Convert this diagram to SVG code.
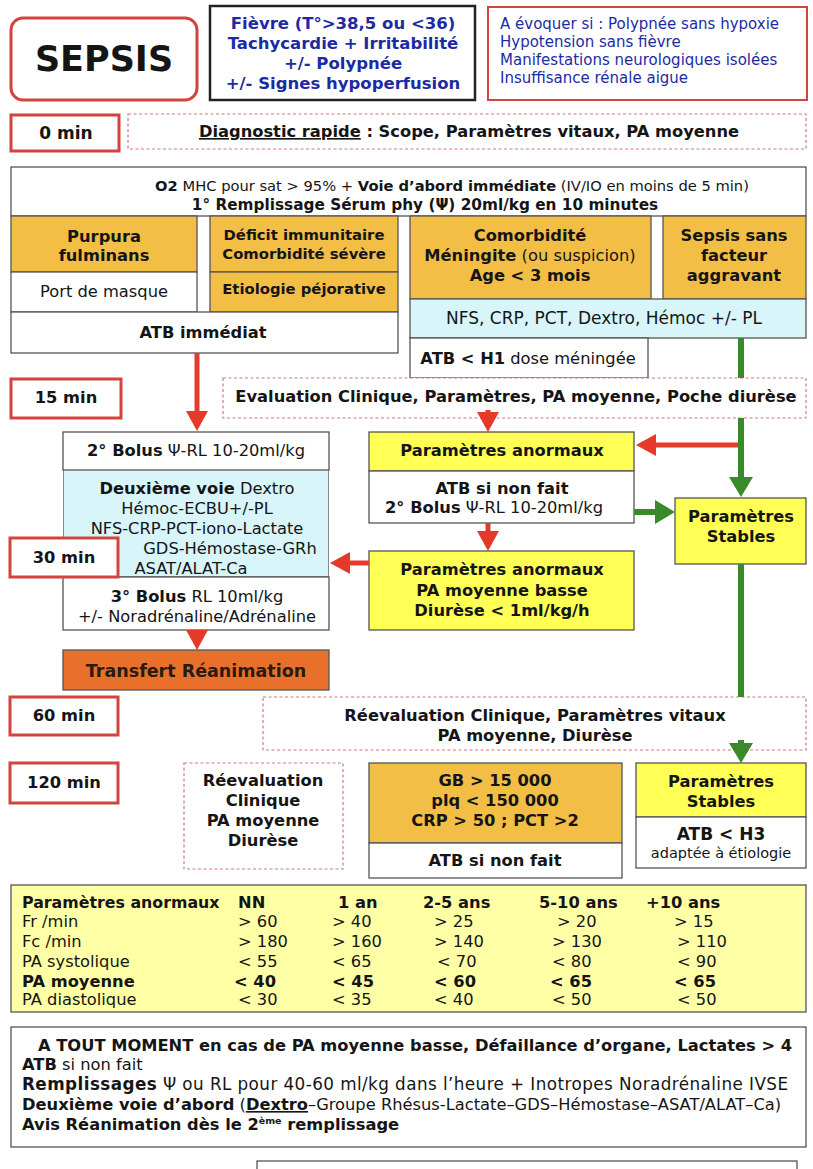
<svg xmlns="http://www.w3.org/2000/svg" width="813" height="1169" viewBox="0 0 813 1169">
<defs>
<style>
text{font-family:"DejaVu Sans","Liberation Sans",sans-serif;font-size:16.3px;fill:#151515}
.b{font-weight:bold}
.c{text-anchor:middle}
.box{fill:#fff;stroke:#555;stroke-width:1.3}
.org{fill:#F2BE45;stroke:#555;stroke-width:1.3}
.cyan{fill:#D8F6FA;stroke:#555;stroke-width:1.3}
.yel{fill:#FFFF55;stroke:#555;stroke-width:1.3}
.time{fill:#fff;stroke:#D2443D;stroke-width:3}
.dash{fill:#fff;stroke:#D27A7A;stroke-width:1.2;stroke-dasharray:3 2.5}
.red{stroke:#E5392A;stroke-width:5;fill:none}
.grn{stroke:#3A8A2B;stroke-width:6;fill:none}
.blue{fill:#1C2BA3}
</style>
<marker id="rh" viewBox="0 0 20 22" markerWidth="20" markerHeight="22" refX="12" refY="11" orient="auto" markerUnits="userSpaceOnUse"><path d="M0,0 L20,11 L0,22 z" fill="#E5392A"/></marker>
<marker id="gh" viewBox="0 0 20 24" markerWidth="20" markerHeight="24" refX="12" refY="12" orient="auto" markerUnits="userSpaceOnUse"><path d="M0,0 L20,12 L0,24 z" fill="#3A8A2B"/></marker>
</defs>
<rect width="813" height="1169" fill="#fff"/>

<g id="sepsis"><rect x="11" y="18" width="186" height="82" rx="12" fill="#fff" stroke="#D2443D" stroke-width="3"/><text x="104" y="71" class="b c" style="font-size:35px">SEPSIS</text></g>
<g id="signes"><rect x="210" y="6" width="265" height="94" fill="#fff" stroke="#222" stroke-width="2.5"/>
<text class="b c blue" style="font-size:16.5px"><tspan x="343" y="29">Fièvre (T°&gt;38,5 ou &lt;36)</tspan><tspan x="343" y="49">Tachycardie + Irritabilité</tspan><tspan x="343" y="69">+/- Polypnée</tspan><tspan x="343" y="89">+/- Signes hypoperfusion</tspan></text></g>
<g id="evoquer"><rect x="488" y="7" width="319" height="93" fill="#fff" stroke="#D2443D" stroke-width="2"/>
<text class="blue" style="font-size:15px"><tspan x="500" y="29">A évoquer si : Polypnée sans hypoxie</tspan><tspan x="500" y="47">Hypotension sans fièvre</tspan><tspan x="500" y="65">Manifestations neurologiques isolées</tspan><tspan x="500" y="83">Insuffisance rénale aigue</tspan></text></g>

<g id="t0"><rect class="time" x="11" y="115" width="108" height="36"/><text x="66" y="139" class="b c" style="font-size:17px">0 min</text></g>
<g id="diag"><rect class="dash" x="128" y="114" width="678" height="35"/><text x="469" y="137" class="b c"><tspan text-decoration="underline">Diagnostic rapide</tspan> : Scope, Paramètres vitaux, PA moyenne</text></g>

<g id="o2"><rect class="box" x="11" y="167" width="795" height="49"/>
<text x="452" y="191" class="c" style="font-size:14.7px"><tspan class="b">O2</tspan> MHC pour sat &gt; 95% + <tspan class="b">Voie d’abord immédiate</tspan> (IV/IO en moins de 5 min)</text>
<text x="425" y="210" class="b c" style="font-size:15.3px">1° Remplissage Sérum phy (Ψ) 20ml/kg en 10 minutes</text></g>

<g id="purpura"><rect class="org" x="11" y="216" width="186" height="56"/><text class="b c"><tspan x="104" y="242">Purpura</tspan><tspan x="104" y="261">fulminans</tspan></text>
<rect class="box" x="11" y="272" width="186" height="40"/><text x="104" y="297" class="c">Port de masque</text></g>
<g id="deficit"><rect class="org" x="210" y="216" width="188" height="56"/><text class="b c" style="font-size:14.8px"><tspan x="304" y="240">Déficit immunitaire</tspan><tspan x="304" y="259">Comorbidité sévère</tspan></text>
<rect class="org" x="210" y="272" width="188" height="40"/><text x="304" y="294" class="b c" style="font-size:14.8px">Etiologie péjorative</text></g>
<g id="atbimm"><rect class="box" x="11" y="312" width="387" height="41"/><text x="203" y="338" class="b c">ATB immédiat</text></g>

<g id="comorb"><rect class="org" x="410" y="216" width="241" height="83"/><text class="c"><tspan x="530" y="241" class="b">Comorbidité</tspan><tspan x="530" y="261"><tspan class="b">Méningite</tspan> (ou suspicion)</tspan><tspan x="530" y="281" class="b">Age &lt; 3 mois</tspan></text></g>
<g id="sanssepsis"><rect class="org" x="663" y="216" width="143" height="83"/><text class="b c"><tspan x="734" y="241">Sepsis sans</tspan><tspan x="734" y="261">facteur</tspan><tspan x="734" y="281">aggravant</tspan></text></g>
<g id="nfs"><rect class="cyan" x="410" y="299" width="396" height="39"/><text x="604" y="324" class="c" style="font-size:17px">NFS, CRP, PCT, Dextro, Hémoc +/- PL</text></g>
<g id="atbh1"><rect class="box" x="410" y="338" width="238" height="40"/><text x="528" y="364" class="c"><tspan class="b">ATB &lt; H1</tspan> dose méningée</text></g>

<g id="t15"><rect class="time" x="11" y="379" width="110" height="39"/><text x="66" y="403" class="b c">15 min</text></g>
<g id="eval"><rect class="dash" x="223" y="378" width="583" height="40"/><text x="516" y="402" class="b c">Evaluation Clinique, Paramètres, PA moyenne, Poche diurèse</text></g>

<g id="bolus2"><rect class="box" x="63" y="432" width="266" height="38"/><text x="196" y="456" class="c"><tspan class="b">2° Bolus</tspan> Ψ-RL 10-20ml/kg</text></g>
<g id="voie2"><svg x="63" y="470" width="266" height="107" overflow="hidden"><rect class="cyan" x="0" y="0" width="266" height="107"/>
<text class="c"><tspan x="134" y="24"><tspan class="b">Deuxième voie</tspan> Dextro</tspan><tspan x="134" y="44">Hémoc-ECBU+/-PL</tspan><tspan x="134" y="64">NFS-CRP-PCT-iono-Lactate</tspan><tspan x="167" y="84">GDS-Hémostase-GRh</tspan><tspan x="128" y="104">ASAT/ALAT-Ca</tspan></text></svg></g>
<g id="bolus3"><rect class="box" x="63" y="577" width="266" height="53"/><text class="c"><tspan x="197" y="602"><tspan class="b">3° Bolus</tspan> RL 10ml/kg</tspan><tspan x="197" y="622">+/- Noradrénaline/Adrénaline</tspan></text></g>
<g id="t30"><rect class="time" x="10" y="538" width="108" height="39"/><text x="64" y="563" class="b c">30 min</text></g>
<g id="transfert"><rect x="63" y="650" width="266" height="40" fill="#E8702A" stroke="#555" stroke-width="1.3"/><text x="196" y="677" class="b c" style="font-size:17.5px;fill:#2a1a10">Transfert Réanimation</text></g>

<g id="anorm1"><rect class="yel" x="369" y="432" width="265" height="39"/><text x="502" y="456" class="b c">Paramètres  anormaux</text>
<rect class="box" x="369" y="471" width="265" height="52"/><text class="c"><tspan x="502" y="494" class="b">ATB si non fait</tspan><tspan x="494" y="513"><tspan class="b">2° Bolus</tspan> Ψ-RL 10-20ml/kg</tspan></text></g>
<g id="stables1"><rect class="yel" x="675" y="498" width="131" height="66"/><text class="b c"><tspan x="741" y="522">Paramètres</tspan><tspan x="741" y="542">Stables</tspan></text></g>
<g id="anorm2"><rect class="yel" x="369" y="551" width="265" height="79"/><text class="b c"><tspan x="502" y="575">Paramètres anormaux</tspan><tspan x="502" y="596">PA moyenne basse</tspan><tspan x="502" y="616">Diurèse &lt; 1ml/kg/h</tspan></text></g>

<g id="t60"><rect class="time" x="10" y="697" width="108" height="38"/><text x="64" y="721" class="b c">60 min</text></g>
<g id="reeval"><rect class="dash" x="263" y="697" width="543" height="53"/><text class="b c"><tspan x="535" y="721">Réevaluation Clinique, Paramètres vitaux</tspan><tspan x="535" y="741">PA moyenne, Diurèse</tspan></text></g>

<g id="t120"><rect class="time" x="10" y="763" width="108" height="40"/><text x="64" y="788" class="b c">120 min</text></g>
<g id="reeval2"><rect class="dash" x="184" y="763" width="159" height="106"/><text class="b c"><tspan x="263" y="786">Réevaluation</tspan><tspan x="263" y="806">Clinique</tspan><tspan x="263" y="826">PA moyenne</tspan><tspan x="263" y="846">Diurèse</tspan></text></g>
<g id="bio"><rect class="org" x="369" y="763" width="253" height="80"/><text class="b c"><tspan x="495" y="786">GB &gt; 15 000</tspan><tspan x="495" y="806">plq &lt; 150 000</tspan><tspan x="495" y="826">CRP &gt; 50 ; PCT &gt;2</tspan></text>
<rect class="box" x="369" y="843" width="253" height="35"/><text x="495" y="866" class="b c">ATB si non fait</text></g>
<g id="stables2"><rect class="yel" x="636" y="763" width="170" height="54"/><text class="b c"><tspan x="721" y="787">Paramètres</tspan><tspan x="721" y="807">Stables</tspan></text>
<rect class="box" x="636" y="817" width="170" height="51"/><text x="721" y="840" class="b c" style="font-size:17px">ATB &lt; H3</text><text x="721" y="858" class="c" style="font-size:14.5px">adaptée à étiologie</text></g>

<g id="table"><rect x="11" y="885" width="795" height="127" fill="#FFFFA6" stroke="#555" stroke-width="1.3"/>
<text x="22" y="908" class="b" style="font-size:15.8px">Paramètres anormaux</text><text x="238" y="908" class="b">NN</text><text x="338" y="908" class="b">1 an</text><text x="423" y="908" class="b">2-5 ans</text><text x="539" y="908" class="b">5-10 ans</text><text x="646" y="908" class="b">+10 ans</text>
<text x="22" y="927">Fr /min</text><text x="238" y="927">&gt; 60</text><text x="332" y="927">&gt; 40</text><text x="434" y="927">&gt; 25</text><text x="557" y="927">&gt; 20</text><text x="674" y="927">&gt; 15</text>
<text x="22" y="947">Fc /min</text><text x="238" y="947">&gt; 180</text><text x="332" y="947">&gt; 160</text><text x="434" y="947">&gt; 140</text><text x="552" y="947">&gt; 130</text><text x="677" y="947">&gt; 110</text>
<text x="22" y="967">PA systolique</text><text x="238" y="967">&lt; 55</text><text x="332" y="967">&lt; 65</text><text x="437" y="967">&lt; 70</text><text x="552" y="967">&lt; 80</text><text x="677" y="967">&lt; 90</text>
<text x="22" y="987" class="b">PA moyenne</text><text x="234" y="987" class="b">&lt; 40</text><text x="332" y="987" class="b">&lt; 45</text><text x="434" y="987" class="b">&lt; 60</text><text x="550" y="987" class="b">&lt; 65</text><text x="674" y="987" class="b">&lt; 65</text>
<text x="22" y="1005">PA diastolique</text><text x="238" y="1005">&lt; 30</text><text x="332" y="1005">&lt; 35</text><text x="434" y="1005">&lt; 40</text><text x="552" y="1005">&lt; 50</text><text x="677" y="1005">&lt; 50</text></g>

<g id="toutmoment"><rect class="box" x="11" y="1027" width="795" height="120"/>
<text x="38" y="1051" class="b">A TOUT MOMENT en cas de PA moyenne basse, Défaillance d’organe, Lactates &gt; 4</text>
<text x="22" y="1070"><tspan class="b">ATB</tspan> si non fait</text>
<text x="22" y="1090" style="font-size:16.8px" textLength="766" lengthAdjust="spacing"><tspan class="b">Remplissages</tspan> Ψ ou RL pour 40-60 ml/kg dans l’heure + Inotropes Noradrénaline IVSE</text>
<text x="22" y="1110"><tspan class="b">Deuxième voie d’abord</tspan> (<tspan class="b" text-decoration="underline">Dextro</tspan>–Groupe Rhésus-Lactate–GDS–Hémostase–ASAT/ALAT–Ca)</text>
<text x="22" y="1130" class="b">Avis Réanimation dès le 2<tspan dy="-6" style="font-size:9.5px">ème</tspan><tspan dy="6"> remplissage</tspan></text></g>

<g id="bottombox"><rect class="box" x="257" y="1161" width="540" height="20"/></g>

<g id="connectors">
<line class="red" x1="197" y1="353" x2="197" y2="423" marker-end="url(#rh)"/>
<line class="red" x1="488" y1="410" x2="488" y2="424" marker-end="url(#rh)"/>
<line class="red" x1="741" y1="445" x2="644" y2="445" marker-end="url(#rh)"/>
<line class="red" x1="369" y1="563" x2="338" y2="563" marker-end="url(#rh)"/>
<line class="red" x1="488" y1="523" x2="488" y2="543" marker-end="url(#rh)"/>
<line class="red" x1="197" y1="630" x2="197" y2="642" marker-end="url(#rh)"/>
<line class="grn" x1="741" y1="338" x2="741" y2="378"/>
<line class="grn" x1="741" y1="418" x2="741" y2="489" marker-end="url(#gh)"/>
<line class="grn" x1="634" y1="512" x2="667" y2="512" marker-end="url(#gh)"/>
<line class="grn" x1="741" y1="564" x2="741" y2="697"/>
<line class="grn" x1="741" y1="740" x2="741" y2="755" marker-end="url(#gh)"/>
</g>
</svg>
